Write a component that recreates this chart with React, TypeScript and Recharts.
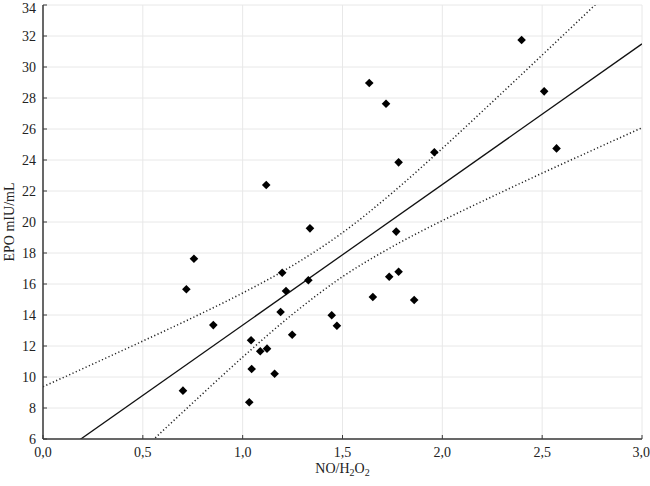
import {
  CartesianGrid,
  ComposedChart,
  Label,
  Line,
  Scatter,
  XAxis,
  YAxis,
} from "recharts";

// measured points (NO/H2O2 ratio vs EPO)
const ratio = [
  0.756, 0.718, 0.853, 0.701, 1.634, 1.718, 1.781, 1.96, 1.118, 1.337, 1.769,
  1.198, 1.329, 1.217, 1.19, 1.248, 1.042, 1.088, 1.122, 1.045, 1.16, 1.033,
  1.446, 1.472, 1.652, 1.734, 1.781, 1.859, 2.397, 2.51, 2.572,
];
const epo = [
  17.63, 15.66, 13.35, 9.12, 28.97, 27.63, 23.85, 24.5, 22.39, 19.59, 19.38,
  16.73, 16.24, 15.55, 14.19, 12.73, 12.37, 11.66, 11.83, 10.52, 10.21, 8.37,
  13.98, 13.31, 15.16, 16.47, 16.79, 14.97, 31.74, 28.43, 24.75,
];

// fitted line and 95% confidence band
const fitX = [0, 3];
const fitY = [4.28, 31.49];
const bandX = [0, 0.25, 0.5, 0.75, 1, 1.25, 1.5, 1.75, 2, 2.25, 2.5, 2.75, 3];
const upperBand = [
  9.37, 10.84, 12.32, 13.83, 15.42, 17.19, 19.31, 21.89, 24.75, 27.74, 30.77,
  33.82, 36.9,
];
const lowerBand = [
  -0.81, 2.26, 5.32, 8.33, 11.28, 14.05, 16.47, 18.41, 20.09, 21.64, 23.15,
  24.62, 26.08,
];

const xTicks = [0, 0.5, 1, 1.5, 2, 2.5, 3];
const yTicks = [6, 8, 10, 12, 14, 16, 18, 20, 22, 24, 26, 28, 30, 32, 34];

const points = ratio.map((x, i) => ({ x, y: epo[i] }));
const fit = fitX.map((x, i) => ({ x, y: fitY[i] }));
const upper = bandX.map((x, i) => ({ x, y: upperBand[i] }));
const lower = bandX.map((x, i) => ({ x, y: lowerBand[i] }));

const font = "'Liberation Serif', 'Times New Roman', serif";
const ink = "#222";
const frame = "#3a3a3a";
const comma = (v: number) => v.toFixed(1).replace(".", ",");

const Diamond = (props: any) => {
  const { cx, cy } = props;
  const r = 4.3;
  return (
    <polygon
      points={`${cx},${cy - r} ${cx + r},${cy} ${cx},${cy + r} ${cx - r},${cy}`}
      fill="#000"
    />
  );
};

const noTick = () => <g />;

export default function App() {
  return (
    <div
      className="epo-chart"
      style={{ position: "absolute", left: 0, top: 0, background: "#fff" }}
    >
      <style>{`.epo-chart text { font-family: 'Liberation Serif', 'Times New Roman', serif !important; }`}</style>
      <ComposedChart
        width={650}
        height={486}
        margin={{ top: 5, right: 8, bottom: 0, left: 0 }}
      >
        <CartesianGrid stroke="#e8e8e8" strokeWidth={1} />
        <XAxis
          type="number"
          dataKey="x"
          domain={[0, 3]}
          ticks={xTicks}
          allowDataOverflow
          height={47}
          tickSize={-4}
          tickMargin={12}
          tickFormatter={comma}
          tick={{ fontSize: 14, fill: ink }}
          axisLine={{ stroke: frame, strokeWidth: 1.5 }}
          tickLine={{ stroke: frame }}
        >
          <Label
            content={(p: any) => {
              const vb = p.viewBox;
              return (
                <text
                  x={vb.x + vb.width / 2}
                  y={473}
                  textAnchor="middle"
                  fontSize={14}
                  fill={ink}
                  fontFamily={font}
                >
                  NO/H
                  <tspan fontSize={10} dy={3}>
                    2
                  </tspan>
                  <tspan dy={-3}>O</tspan>
                  <tspan fontSize={10} dy={3}>
                    2
                  </tspan>
                </text>
              );
            }}
          />
        </XAxis>
        <XAxis
          xAxisId="top"
          orientation="top"
          type="number"
          dataKey="x"
          domain={[0, 3]}
          ticks={xTicks}
          height={0}
          tickSize={-4}
          tick={noTick}
          axisLine={{ stroke: frame, strokeWidth: 1.5 }}
          tickLine={{ stroke: frame }}
        />
        <YAxis
          type="number"
          dataKey="y"
          domain={[6, 34]}
          ticks={yTicks}
          allowDataOverflow
          width={43}
          tickSize={-4}
          tickMargin={11}
          tick={{ fontSize: 14, fill: ink }}
          axisLine={{ stroke: frame, strokeWidth: 1.5 }}
          tickLine={{ stroke: frame }}
        >
          <Label
            content={(p: any) => {
              const vb = p.viewBox;
              const cy = vb.y + vb.height / 2;
              return (
                <text
                  x={9}
                  y={cy}
                  transform={`rotate(-90, 9, ${cy})`}
                  textAnchor="middle"
                  dominantBaseline="central"
                  fontSize={14}
                  fill={ink}
                  fontFamily={font}
                >
                  EPO mIU/mL
                </text>
              );
            }}
          />
        </YAxis>
        <YAxis
          yAxisId="right"
          orientation="right"
          type="number"
          dataKey="y"
          domain={[6, 34]}
          ticks={yTicks}
          width={0}
          tickSize={-4}
          tick={noTick}
          axisLine={{ stroke: frame, strokeWidth: 1.5 }}
          tickLine={{ stroke: frame }}
        />
        <Line
          data={upper}
          dataKey="y"
          type="monotone"
          stroke="#222"
          strokeWidth={1.5}
          strokeDasharray="1.2 2.4"
          dot={false}
          activeDot={false}
          isAnimationActive={false}
        />
        <Line
          data={lower}
          dataKey="y"
          type="monotone"
          stroke="#222"
          strokeWidth={1.5}
          strokeDasharray="1.2 2.4"
          dot={false}
          activeDot={false}
          isAnimationActive={false}
        />
        <Line
          data={fit}
          dataKey="y"
          type="linear"
          stroke="#111"
          strokeWidth={1.3}
          dot={false}
          activeDot={false}
          isAnimationActive={false}
        />
        <Scatter
          data={points}
          dataKey="y"
          shape={Diamond}
          isAnimationActive={false}
        />
      </ComposedChart>
    </div>
  );
}
